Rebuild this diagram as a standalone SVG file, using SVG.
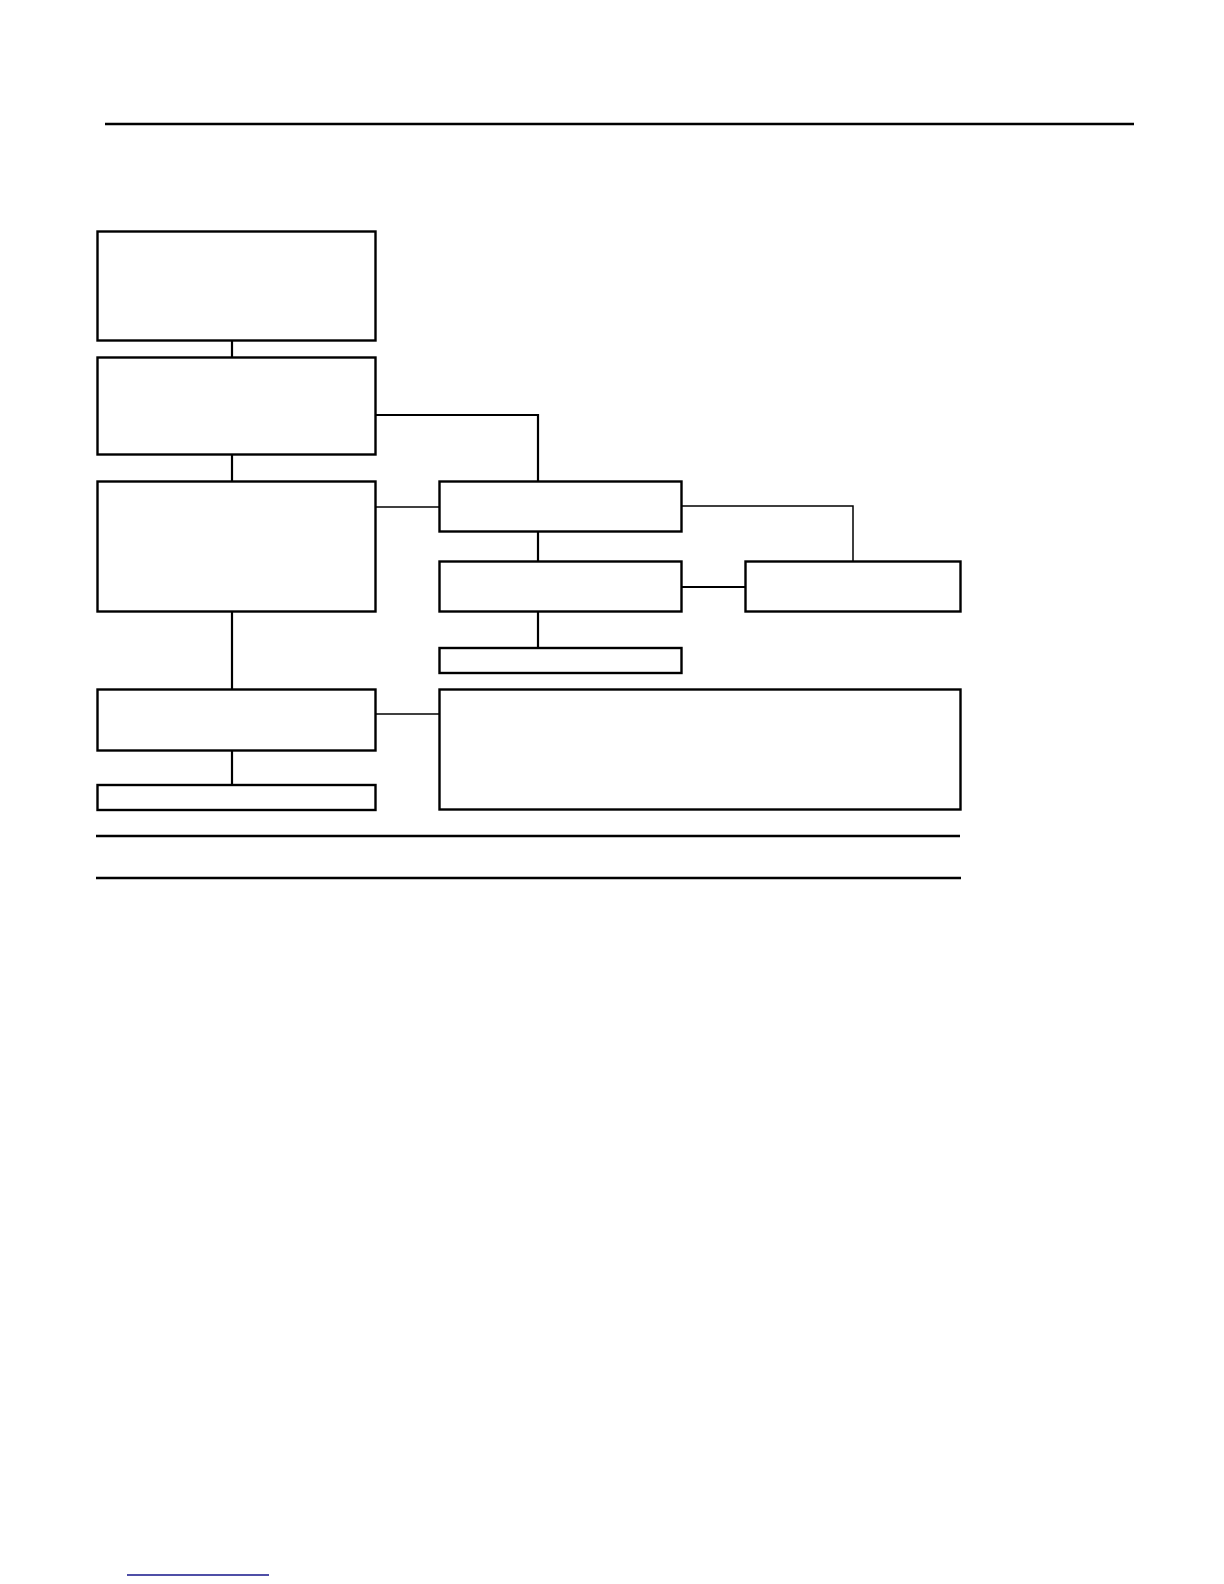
<svg xmlns="http://www.w3.org/2000/svg" width="1224" height="1584" viewBox="0 0 1224 1584">
<style>
.box{fill:#fff;stroke:#000;stroke-width:2.4}
.c{fill:none;stroke:#000;stroke-width:2.2}
.t{fill:none;stroke:#000;stroke-width:1.5}
.rule{stroke:#000;stroke-width:2.4}
</style>
<rect width="1224" height="1584" fill="#fff"/>
<line class="rule" x1="105" y1="124" x2="1134" y2="124" stroke-width="2.6"/>
<g id="connectors">
<line class="c" x1="232" y1="341" x2="232" y2="357"/>
<line class="c" x1="232" y1="455" x2="232" y2="481"/>
<path class="c" d="M376 415 H538 V481"/>
<line class="t" x1="376" y1="507" x2="439" y2="507"/>
<line class="c" x1="538" y1="532" x2="538" y2="561"/>
<path class="t" d="M682 506 H853 V561"/>
<line class="c" x1="682" y1="587" x2="745" y2="587" stroke-width="3.2"/>
<line class="c" x1="538" y1="612" x2="538" y2="648"/>
<line class="c" x1="232" y1="612" x2="232" y2="689"/>
<line class="t" x1="376" y1="714" x2="439" y2="714"/>
<line class="c" x1="232" y1="751" x2="232" y2="785"/>
</g>
<g id="n1"><rect class="box" x="97.5" y="231.5" width="278" height="109"/></g>
<g id="n2"><rect class="box" x="97.5" y="357.5" width="278" height="97"/></g>
<g id="n3"><rect class="box" x="97.5" y="481.5" width="278" height="130"/></g>
<g id="n4"><rect class="box" x="439.5" y="481.5" width="242" height="50"/></g>
<g id="n5"><rect class="box" x="439.5" y="561.5" width="242" height="50"/></g>
<g id="n6"><rect class="box" x="745.5" y="561.5" width="215" height="50"/></g>
<g id="n7"><rect class="box" x="439.5" y="648" width="242" height="25"/></g>
<g id="n8"><rect class="box" x="97.5" y="689.5" width="278" height="61"/></g>
<g id="n9"><rect class="box" x="97.5" y="785" width="278" height="25"/></g>
<g id="n10"><rect class="box" x="439.5" y="689.5" width="521" height="120"/></g>
<line class="rule" x1="96" y1="836" x2="960" y2="836"/>
<line class="rule" x1="96" y1="878" x2="961" y2="878"/>
<line x1="127" y1="1575" x2="269" y2="1575" stroke="#14148a" stroke-width="1.6"/>
</svg>
